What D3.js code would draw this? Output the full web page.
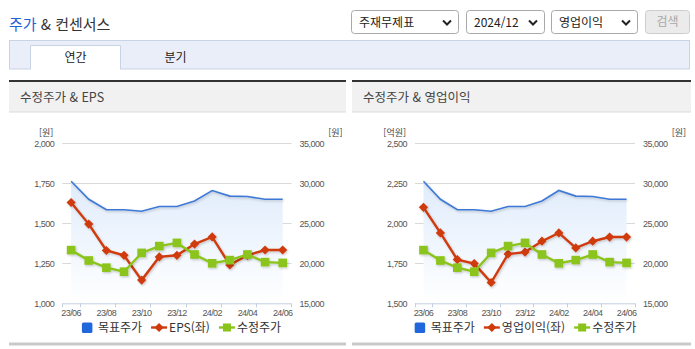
<!DOCTYPE html>
<html lang="ko">
<head>
<meta charset="utf-8">
<script src="https://cdn.jsdelivr.net/npm/d3@7"></script>
<style>
  html, body { margin: 0; padding: 0; background: #fff; }
  svg { display: block; }
  text { font-family: "Noto Sans CJK KR", "Liberation Sans", sans-serif; }
  .num { font-family: "Liberation Sans", Arial, sans-serif; }
</style>
</head>
<body>
<script>
// ---- data ----
const months = ["23/06","23/07","23/08","23/09","23/10","23/11","23/12","24/01","24/02","24/03","24/04","24/05","24/06"];
const targetPrice = [30250, 28000, 26700, 26700, 26500, 27100, 27100, 27800, 29100, 28400, 28350, 28000, 28000]; // 목표주가 (원)
const adjPrice    = [21650, 20350, 19450, 18950, 21300, 22150, 22550, 21100, 20000, 20400, 21100, 20150, 20050]; // 수정주가 (원)
const eps         = [1630, 1495, 1330, 1300, 1145, 1290, 1300, 1370, 1415, 1240, 1300, 1333, 1333];           // EPS (원)
const opIncome    = [2100, 1940, 1773, 1748, 1630, 1808, 1820, 1888, 1940, 1846, 1888, 1914, 1914];           // 영업이익 (억원)

const priceTicks = [15000, 20000, 25000, 30000, 35000];
const epsTicks   = [1000, 1250, 1500, 1750, 2000];
const opTicks    = [1500, 1750, 2000, 2250, 2500];

const selectOptions = ["주재무제표", "2024/12", "영업이익"];
const tabs = ["연간", "분기"];

// ---- colours ----
const C = {
  blue: "#3d78d6", blueLegend: "#2167dc",
  red: "#cf3a0c", green: "#8ac41a",
  grid: "#d9d9d9", axis: "#c3d0df", tick: "#555"
};

const W = 695, H = 349;
const svg = d3.select("body").append("svg").attr("width", W).attr("height", H);
svg.append("rect").attr("width", W).attr("height", H).attr("fill", "#fff");

const defs = svg.append("defs");
const shadow = defs.append("filter").attr("id", "shadow")
  .attr("x", "-10%").attr("y", "-10%").attr("width", "130%").attr("height", "130%");
shadow.append("feDropShadow").attr("dx", 1).attr("dy", 1.2).attr("stdDeviation", 0.8)
  .attr("flood-color", "#000").attr("flood-opacity", 0.22);

// ---- page header ----
const title = svg.append("text").attr("x", 9).attr("y", 30).style("font-size", "15px");
title.append("tspan").attr("fill", "#1f60d4").text("주가");
title.append("tspan").attr("fill", "#333").text(" & 컨센서스");

const selBoxes = [[351, 459], [466, 545], [551, 638]];
selBoxes.forEach(([x0, x1], i) => {
  const g = svg.append("g");
  g.append("rect").attr("x", x0 + 0.5).attr("y", 10.5).attr("width", x1 - x0 - 1).attr("height", 23)
    .attr("rx", 3).attr("fill", "#fff").attr("stroke", "#a9a9a9");
  g.append("text").attr("x", x0 + 8).attr("y", 26.5).attr("fill", "#222")
    .style("font-size", "12px").text(selectOptions[i]);
  const cx = x1 - 12;
  g.append("path").attr("d", `M${cx - 4},${20.5} L${cx},${24.5} L${cx + 4},${20.5}`)
    .attr("fill", "none").attr("stroke", "#222").attr("stroke-width", 2);
});
svg.append("rect").attr("x", 645.5).attr("y", 10.5).attr("width", 44).attr("height", 23)
  .attr("rx", 3).attr("fill", "#ebebeb").attr("stroke", "#cdcdcd");
svg.append("text").attr("x", 667.5).attr("y", 26).attr("text-anchor", "middle")
  .attr("fill", "#a8a8a8").style("font-size", "12px").text("검색");

// tab bar
svg.append("rect").attr("x", 9.5).attr("y", 40.5).attr("width", 680).attr("height", 28.5)
  .attr("fill", "#e9eef8").attr("stroke", "#c9d3e6");
svg.append("path").attr("d", "M30.5,69 V45.5 H120.5 V69")
  .attr("fill", "#fff").attr("stroke", "#c9d3e6");
svg.append("rect").attr("x", 31).attr("y", 46).attr("width", 89).attr("height", 24).attr("fill", "#fff");
svg.append("text").attr("x", 75.5).attr("y", 61.5).attr("text-anchor", "middle")
  .attr("fill", "#222").style("font-size", "12px").text(tabs[0]);
svg.append("text").attr("x", 175.5).attr("y", 61.5).attr("text-anchor", "middle")
  .attr("fill", "#222").style("font-size", "12px").text(tabs[1]);

// ---- chart panels ----
const plotTop = 143.3, plotBottom = 303.3;

function drawPanel(cfg) {
  const g = svg.append("g");
  // panel chrome
  g.append("rect").attr("x", cfg.x0).attr("y", 80).attr("width", cfg.x1 - cfg.x0).attr("height", 2).attr("fill", "#333");
  g.append("rect").attr("x", cfg.x0).attr("y", 82).attr("width", cfg.x1 - cfg.x0).attr("height", 30).attr("fill", "#f1f1f1");
  g.append("rect").attr("x", cfg.x0).attr("y", 111.5).attr("width", cfg.x1 - cfg.x0).attr("height", 1).attr("fill", "#dcdcdc");
  g.append("text").attr("x", cfg.x0 + 11).attr("y", 102).attr("fill", "#444")
    .style("font-size", "12.5px").text(cfg.title);
  g.append("rect").attr("x", cfg.x0).attr("y", 342.5).attr("width", cfg.x1 - cfg.x0).attr("height", 3).attr("fill", "#c9c9c9");

  const x = d3.scaleBand().domain(months).range([cfg.plotL, cfg.plotR]).padding(0);
  const bw = x.bandwidth();
  const cx = m => x(m) + bw / 2;
  const yL = d3.scaleLinear().domain(d3.extent(cfg.leftTicks)).range([plotBottom, plotTop]);
  const yR = d3.scaleLinear().domain(d3.extent(priceTicks)).range([plotBottom, plotTop]);

  // gridlines
  g.append("g").selectAll("line").data(cfg.leftTicks.slice(1)).join("line")
    .attr("x1", cfg.plotL).attr("x2", cfg.plotR)
    .attr("y1", d => Math.round(yL(d)) + 0.5).attr("y2", d => Math.round(yL(d)) + 0.5)
    .attr("stroke", C.grid).attr("stroke-width", 1);

  // left axis labels
  const la = g.append("g").attr("transform", `translate(${cfg.plotL - 8},0)`)
    .call(d3.axisLeft(yL).tickValues(cfg.leftTicks).tickSize(0).tickPadding(0).tickFormat(d3.format(",")));
  la.select(".domain").remove();
  la.selectAll("text").attr("class", "num").attr("fill", C.tick)
    .style("font-size", "9px").style("letter-spacing", "-0.5px").style("font-family", "Liberation Sans, Arial, sans-serif");
  g.append("text").attr("x", cfg.plotL - 9).attr("y", 136).attr("text-anchor", "end")
    .attr("fill", "#444").style("font-size", "9px").text(cfg.leftUnit);

  // right axis labels
  const ra = g.append("g").attr("transform", `translate(${cfg.plotR + 8},0)`)
    .call(d3.axisRight(yR).tickValues(priceTicks).tickSize(0).tickPadding(0).tickFormat(d3.format(",")));
  ra.select(".domain").remove();
  ra.selectAll("text").attr("fill", C.tick)
    .style("font-size", "9px").style("letter-spacing", "-0.5px").style("font-family", "Liberation Sans, Arial, sans-serif");
  g.append("text").attr("x", cfg.plotR + 51).attr("y", 136).attr("text-anchor", "end")
    .attr("fill", "#444").style("font-size", "9px").text("[원]");

  // target price area + line (right axis)
  const gid = "grad" + cfg.id;
  const grad = defs.append("linearGradient").attr("id", gid)
    .attr("gradientUnits", "userSpaceOnUse").attr("x1", 0).attr("x2", 0)
    .attr("y1", plotTop).attr("y2", plotBottom);
  grad.append("stop").attr("offset", 0).attr("stop-color", "#d6e6fa");
  grad.append("stop").attr("offset", 1).attr("stop-color", "#ffffff");

  const area = d3.area().x((d, i) => cx(months[i])).y0(plotBottom).y1(d => yR(d));
  g.append("path").datum(targetPrice).attr("d", area).attr("fill", `url(#${gid})`);
  const lineR = d3.line().x((d, i) => cx(months[i])).y(d => yR(d));
  g.append("path").datum(targetPrice).attr("d", lineR).attr("fill", "none")
    .attr("stroke", C.blue).attr("stroke-width", 1.6).attr("filter", "url(#shadow)");

  // x axis
  const xa = g.append("g").attr("transform", `translate(0,${plotBottom})`)
    .call(d3.axisBottom(x).tickValues(months.filter((m, i) => i % 2 === 0)).tickSize(0).tickPadding(6));
  xa.select(".domain").remove();
  xa.selectAll("text").attr("fill", C.tick)
    .style("font-size", "9px").style("letter-spacing", "-0.6px").style("font-family", "Liberation Sans, Arial, sans-serif");
  g.append("line").attr("x1", cfg.plotL).attr("x2", cfg.plotR)
    .attr("y1", plotBottom + 0.5).attr("y2", plotBottom + 0.5).attr("stroke", C.axis);
  const tickIdx = [0].concat(months.map((m, i) => i).filter(i => i % 2 === 1)).concat([months.length]);
  g.append("g").selectAll("line").data(tickIdx).join("line")
    .attr("x1", i => Math.round(cfg.plotL + i * bw) + 0.5).attr("x2", i => Math.round(cfg.plotL + i * bw) + 0.5)
    .attr("y1", plotBottom).attr("y2", plotBottom + 4).attr("stroke", C.axis);

  // left-axis series (red, diamonds)
  const lineL = d3.line().x((d, i) => cx(months[i])).y(d => yL(d));
  const diamond = "M0,-4.6 L4.6,0 L0,4.6 L-4.6,0 Z";
  const redG = g.append("g").attr("filter", "url(#shadow)");
  redG.append("path").datum(cfg.leftSeries).attr("d", lineL).attr("fill", "none")
    .attr("stroke", C.red).attr("stroke-width", 2.4);
  redG.selectAll("path.pt").data(cfg.leftSeries).join("path").attr("class", "pt")
    .attr("d", diamond).attr("transform", (d, i) => `translate(${cx(months[i])},${yL(d)})`)
    .attr("fill", C.red);

  // adjusted price (green, squares)
  const greenG = g.append("g").attr("filter", "url(#shadow)");
  greenG.append("path").datum(adjPrice).attr("d", lineR).attr("fill", "none")
    .attr("stroke", C.green).attr("stroke-width", 2.4);
  greenG.selectAll("rect").data(adjPrice).join("rect")
    .attr("x", (d, i) => cx(months[i]) - 4.3).attr("y", d => yR(d) - 4.3)
    .attr("width", 8.6).attr("height", 8.6).attr("fill", C.green);

  // legend
  const lg = g.append("g");
  const ly = 327.5;
  const items = [
    { name: "목표주가", type: "square", color: C.blueLegend },
    { name: cfg.leftName, type: "diamond", color: C.red },
    { name: "수정주가", type: "rectline", color: C.green }
  ];
  let cur = 0;
  const placed = [];
  items.forEach(it => {
    const ig = lg.append("g").attr("transform", `translate(${cur},0)`);
    let sw;
    if (it.type === "square") {
      ig.append("rect").attr("x", 0).attr("y", ly - 5).attr("width", 10.5).attr("height", 10.5)
        .attr("rx", 1.5).attr("fill", it.color);
      sw = 16;
    } else {
      ig.append("line").attr("x1", 0).attr("x2", 16).attr("y1", ly).attr("y2", ly)
        .attr("stroke", it.color).attr("stroke-width", 2.4);
      if (it.type === "diamond") {
        ig.append("path").attr("d", diamond).attr("transform", `translate(8,${ly})`).attr("fill", it.color);
      } else {
        ig.append("rect").attr("x", 4).attr("y", ly - 4).attr("width", 8).attr("height", 8).attr("fill", it.color);
      }
      sw = 18;
    }
    const t = ig.append("text").attr("x", sw).attr("y", ly + 4.5).attr("fill", "#333")
      .style("font-size", "12px").text(it.name);
    cur += sw + t.node().getComputedTextLength() + 9;
  });
  const total = cur - 9;
  lg.attr("transform", `translate(${(cfg.x0 + cfg.x1) / 2 - total / 2 + 4},0)`);
}

drawPanel({
  id: "L", x0: 9, x1: 346, plotL: 62.3, plotR: 291.5,
  title: "수정주가 & EPS", leftUnit: "[원]", leftTicks: epsTicks,
  leftSeries: eps, leftName: "EPS(좌)"
});
drawPanel({
  id: "R", x0: 352, x1: 691, plotL: 415, plotR: 635,
  title: "수정주가 & 영업이익", leftUnit: "[억원]", leftTicks: opTicks,
  leftSeries: opIncome, leftName: "영업이익(좌)"
});
</script>
</body>
</html>
